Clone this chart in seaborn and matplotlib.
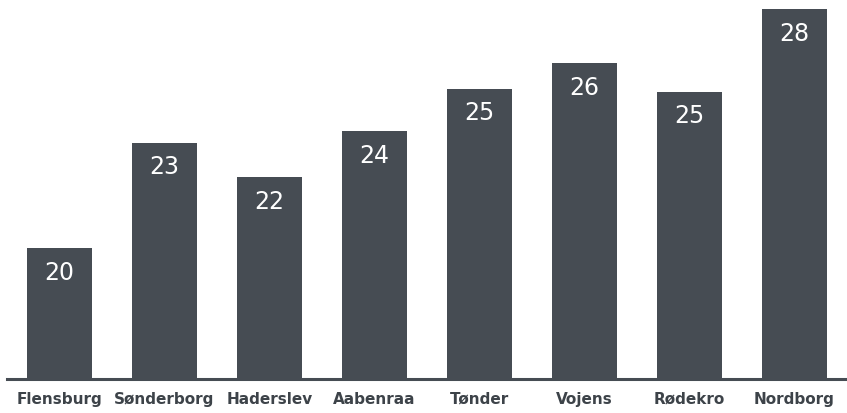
import matplotlib
matplotlib.use("Agg")
import matplotlib.pyplot as plt
import seaborn as sns
import pandas as pd

towns = ["Flensburg", "Sønderborg", "Haderslev", "Aabenraa", "Tønder", "Vojens", "Rødekro", "Nordborg"]
values = [19.6, 23.3, 22.1, 23.7, 25.2, 26.1, 25.1, 28.0]
labels = ["20", "23", "22", "24", "25", "26", "25", "28"]

bar_color = "#464c53"
text_color = "#3d4349"

df = pd.DataFrame({"town": towns, "value": values})

sns.set_style("white")
plt.rcParams["font.family"] = ["DejaVu Sans"]

fig = plt.figure(figsize=(8.47, 4.14), dpi=100)
ax = fig.add_axes([7 / 847, 1 - 380 / 414, 1 - 7 / 847, 380 / 414])

sns.barplot(data=df, x="town", y="value", color=bar_color, saturation=1,
            width=0.62, linewidth=0, ax=ax)

ax.set_ylim(15, 28.35)
ax.set_xlim(-0.5, 7.5)

for i, (v, lab) in enumerate(zip(values, labels)):
    ax.annotate(lab, (i, v), xytext=(0, -17), textcoords="offset points",
                ha="center", va="center", color="white", fontsize=17)

for s in ["top", "right", "left"]:
    ax.spines[s].set_visible(False)
ax.spines["bottom"].set_color(bar_color)
ax.spines["bottom"].set_linewidth(2.2)

ax.set_yticks([])
ax.set_xlabel("")
ax.set_ylabel("")
ax.tick_params(axis="x", length=0, pad=17)
for t in ax.get_xticklabels():
    t.set_fontweight("bold")
    t.set_fontsize(11)
    t.set_color(text_color)
    t.set_verticalalignment("baseline")

fig.savefig("out.png", dpi=100)
